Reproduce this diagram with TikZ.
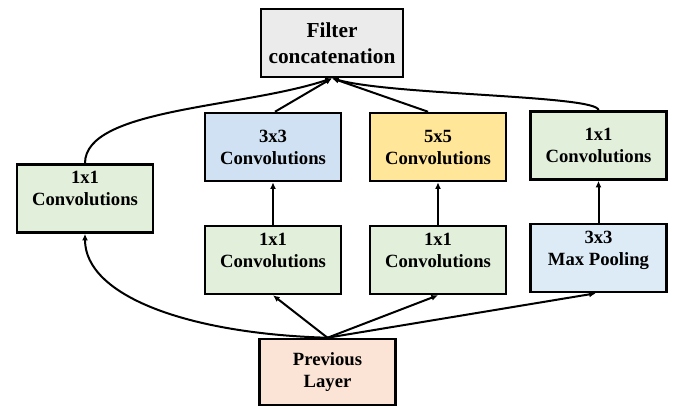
\documentclass[tikz,border=0pt]{standalone}
\usepackage{fontspec}
\setmainfont{Liberation Serif}
\usetikzlibrary{arrows.meta}
\definecolor{concatfill}{HTML}{EBEBEB}
\definecolor{onefill}{HTML}{E2EFDA}
\definecolor{threefill}{HTML}{CFE1F2}
\definecolor{fivefill}{HTML}{FFE699}
\definecolor{poolfill}{HTML}{DDEBF7}
\definecolor{prevfill}{HTML}{FBE4D6}
\begin{document}
\begin{tikzpicture}[
x=0.75pt,y=0.75pt,
box/.style={draw,line width=1.9pt,align=center,inner sep=2pt,
  minimum width=102pt,minimum height=51pt,
  font=\bfseries\fontsize{14}{16.5}\selectfont},
link/.style={line width=1.5pt,-{Latex[length=5pt,width=4.5pt]}},
]
\useasboundingbox (0,0) rectangle (674,-408);
% boxes
\node[box,fill=concatfill,minimum width=106.5pt,
  font=\bfseries\fontsize{16}{19.5}\selectfont] (concat) at (332,-43) {Filter\\concatenation};
\node[box,fill=onefill] (conv1) at (85,-198.5) {1x1\\Convolutions\\[-1.5pt]};
\node[box,fill=threefill] (conv3) at (273,-147) {3x3\\Convolutions};
\node[box,fill=fivefill] (conv5) at (438,-147) {5x5\\Convolutions};
\node[box,fill=onefill] (convp) at (598.5,-145.5) {1x1\\Convolutions};
\node[box,fill=onefill] (red3) at (273,-260) {1x1\\Convolutions\\[-1.5pt]};
\node[box,fill=onefill] (red5) at (438,-260) {1x1\\Convolutions\\[-1.5pt]};
\node[box,fill=poolfill] (pool) at (598.5,-258) {3x3\\Max Pooling\\[-1.5pt]};
\node[box,fill=prevfill,minimum height=49.5pt] (prev) at (327.5,-372) {Previous\\Layer};
% links
\draw[link] (prev.north) .. controls +(-140,4) and +(0,-62) .. (conv1.south);
\draw[link] (prev.north) -- (red3.south);
\draw[link] (prev.north) -- (red5.south);
\draw[link] (prev.north) -- ([xshift=-2pt]pool.south);
\draw[link] (red3) -- (conv3);
\draw[link] (red5) -- (conv5);
\draw[link] (pool) -- (convp);
\draw[link] (conv1.north) .. controls +(0,55) and +(-90,-30) .. (concat.south);
\draw[link] ([xshift=1.5pt]conv3.north) -- (concat.south);
\draw[link] ([xshift=-7.5pt]conv5.north) -- (concat.south);
\draw[link] (convp.north) .. controls +(0,15) and +(60,-17) .. (concat.south);
\end{tikzpicture}
\end{document}
